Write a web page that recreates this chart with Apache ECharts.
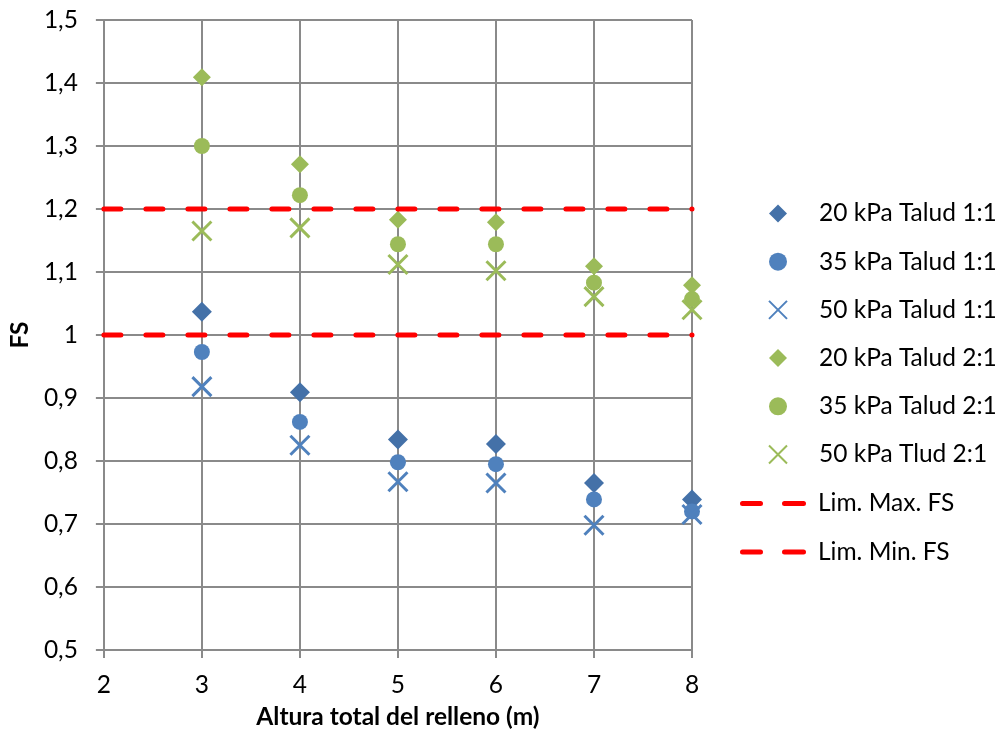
<!DOCTYPE html>
<html>
<head>
<meta charset="utf-8">
<script src="https://cdn.jsdelivr.net/npm/echarts@6/dist/echarts.min.js"></script>
<style>
  html, body { margin: 0; padding: 0; background: #ffffff; }
  #chart { width: 998px; height: 736px; }
</style>
</head>
<body>
<div id="chart"></div>
<script>
// Altura total del relleno (m)
const alturas = [3, 4, 5, 6, 7, 8];

// Factor de seguridad por sobrecarga y talud
const fs20Talud11 = [1.037, 0.909, 0.834, 0.827, 0.765, 0.739];
const fs35Talud11 = [0.973, 0.862, 0.798, 0.795, 0.739, 0.720];
const fs50Talud11 = [0.918, 0.825, 0.767, 0.765, 0.698, 0.715];
const fs20Talud21 = [1.409, 1.271, 1.183, 1.179, 1.109, 1.079];
const fs35Talud21 = [1.300, 1.222, 1.144, 1.144, 1.083, 1.057];
const fs50Talud21 = [1.165, 1.170, 1.112, 1.102, 1.061, 1.040];

// Límites del factor de seguridad
const limiteX = [2, 8];
const limMaxFS = 1.2;
const limMinFS = 1.0;

// Nombres de las series
const nombresPuntos = [
  '20 kPa Talud 1:1', '35 kPa Talud 1:1', '50 kPa Talud 1:1',
  '20 kPa Talud 2:1', '35 kPa Talud 2:1', '50 kPa Tlud 2:1'
];
const nombresLimites = ['Lim. Max. FS', 'Lim. Min. FS'];

const FONT = 'Lato';
const FS_TXT = 24.5;
const AZUL_OSC = '#4471a8';
const AZUL = '#4f81bd';
const VERDE = '#9bbb59';
const ROJO = '#ff0000';
const GRIS = '#8a8a8a';
const CRUZ = 'path://M0,0L10,10M10,0L0,10';
// Icono de leyenda: dos trazos de línea discontinua
const ICONO_TRAZOS = 'path://M2.5,0H20.5A2.5,2.5,0,0,1,20.5,5H2.5A2.5,2.5,0,0,1,2.5,0Z' +
                     'M44.5,0H63.5A2.5,2.5,0,0,1,63.5,5H44.5A2.5,2.5,0,0,1,44.5,0Z';

const pares = (ys) => alturas.map((x, i) => [x, ys[i]]);

function serieDispersion(nombre, ys, simbolo, tam, color, cruz) {
  const s = {
    name: nombre,
    type: 'scatter',
    data: pares(ys),
    symbol: simbolo,
    symbolSize: tam,
    itemStyle: { color: color, opacity: 1 },
    emphasis: { disabled: true },
    z: 3
  };
  if (cruz) {
    s.itemStyle = { color: 'rgba(0,0,0,0)', borderColor: color, borderWidth: 3, opacity: 1 };
  }
  return s;
}

function serieLimite(nombre, y) {
  return {
    name: nombre,
    type: 'line',
    data: limiteX.map((x) => [x, y]),
    symbol: 'none',
    lineStyle: { color: ROJO, width: 5, type: [17, 25], cap: 'round' },
    itemStyle: { color: ROJO },
    emphasis: { disabled: true },
    silent: true,
    z: 4
  };
}

const textoLeyenda = { fontFamily: FONT, fontSize: FS_TXT, color: '#000' };

const chart = echarts.init(document.getElementById('chart'), null, { renderer: 'canvas' });

chart.setOption({
  animation: false,
  backgroundColor: '#ffffff',
  textStyle: { fontFamily: FONT, color: '#000' },
  grid: { left: 103, right: 306, top: 20, bottom: 86 },
  legend: [
    {
      orient: 'vertical',
      left: 763,
      top: 196,
      itemWidth: 18,
      itemHeight: 18,
      itemGap: 23.2,
      selectedMode: false,
      textStyle: Object.assign({}, textoLeyenda, { padding: [0, 0, 0, 27] }),
      data: nombresPuntos
    },
    {
      orient: 'vertical',
      left: 735,
      top: 486,
      itemWidth: 66,
      itemHeight: 5,
      itemGap: 23.6,
      selectedMode: false,
      textStyle: Object.assign({}, textoLeyenda, { padding: [0, 0, 0, 7] }),
      data: nombresLimites.map((n) => ({ name: n, icon: ICONO_TRAZOS }))
    }
  ],
  xAxis: {
    type: 'value',
    min: 2,
    max: 8,
    interval: 1,
    name: 'Altura total del relleno (m)',
    nameLocation: 'middle',
    nameGap: 55,
    nameTextStyle: { fontFamily: FONT, fontSize: FS_TXT, fontWeight: 'bold', color: '#000' },
    axisLine: { show: true, lineStyle: { color: GRIS, width: 2 } },
    axisTick: { show: true, inside: false, length: 8, lineStyle: { color: GRIS, width: 2 } },
    axisLabel: { fontFamily: FONT, fontSize: FS_TXT, color: '#000', margin: 23 },
    splitLine: { show: true, lineStyle: { color: GRIS, width: 2 } }
  },
  yAxis: {
    type: 'value',
    min: 0.5,
    max: 1.5,
    interval: 0.1,
    name: 'FS',
    nameLocation: 'middle',
    nameGap: 67,
    nameRotate: 90,
    nameTextStyle: { fontFamily: FONT, fontSize: FS_TXT, fontWeight: 'bold', color: '#000' },
    axisLine: { show: true, lineStyle: { color: GRIS, width: 2 } },
    axisTick: { show: true, inside: false, length: 8, lineStyle: { color: GRIS, width: 2 } },
    axisLabel: {
      fontFamily: FONT, fontSize: FS_TXT, color: '#000', margin: 26,
      formatter: (v) => {
        const r = Math.round(v * 10) / 10;
        return Number.isInteger(r) ? String(r) : r.toFixed(1).replace('.', ',');
      }
    },
    splitLine: { show: true, lineStyle: { color: GRIS, width: 2 } }
  },
  series: [
    serieDispersion(nombresPuntos[0], fs20Talud11, 'diamond', 20, AZUL_OSC, false),
    serieDispersion(nombresPuntos[1], fs35Talud11, 'circle', 16, AZUL, false),
    serieDispersion(nombresPuntos[2], fs50Talud11, CRUZ, 19, AZUL, true),
    serieDispersion(nombresPuntos[3], fs20Talud21, 'diamond', 18, VERDE, false),
    serieDispersion(nombresPuntos[4], fs35Talud21, 'circle', 16, VERDE, false),
    serieDispersion(nombresPuntos[5], fs50Talud21, CRUZ, 19, VERDE, true),
    serieLimite(nombresLimites[0], limMaxFS),
    serieLimite(nombresLimites[1], limMinFS)
  ]
});
</script>
</body>
</html>
